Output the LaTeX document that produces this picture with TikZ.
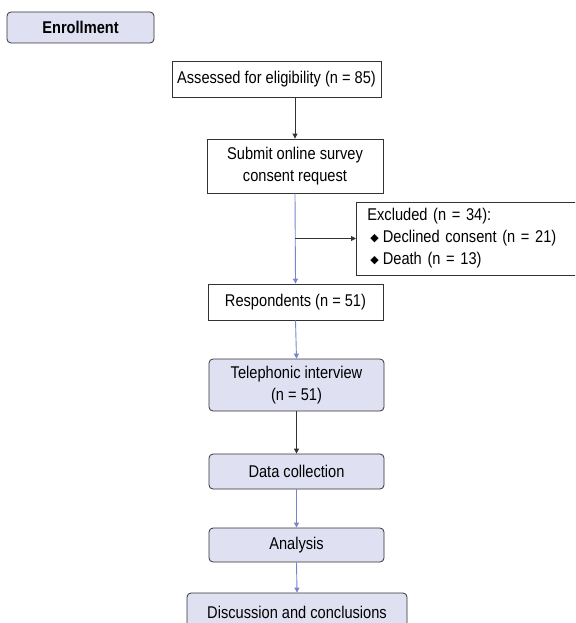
\documentclass[tikz,border=0pt]{standalone}
\usepackage{fontspec}
\setmainfont{Liberation Sans}[FakeStretch=0.86]
\newfontfamily\symfont{DejaVu Sans}
\usetikzlibrary{arrows.meta}
\definecolor{boxfill}{HTML}{DFE0F1}
\definecolor{flowblue}{HTML}{7A84CC}
\definecolor{boxline}{HTML}{333333}
\newcommand{\bul}{\hspace{3pt}{\symfont\fontsize{11}{12}\selectfont\raisebox{1pt}{◆}}\hspace{4pt}}
\begin{document}
\begin{tikzpicture}[x=1pt,y=-1pt,font=\fontsize{17}{22}\selectfont,
  box/.style={draw=boxline,line width=0.8pt,align=center,inner sep=2pt},
  stage/.style={box,fill=boxfill,rounded corners=4pt},
  arr/.style={-{Triangle[length=5pt,width=5pt]},line width=0.9pt,boxline},
  arrblue/.style={arr,flowblue}]
\useasboundingbox (0,0) rectangle (575,623);
\clip (0,0) rectangle (575,623);
\node[stage,minimum width=147pt,minimum height=31pt,font=\fontsize{17}{22}\selectfont\bfseries] (enrol) at (80.5,27.5) {Enrollment};
\node[box,minimum width=209pt,minimum height=36pt] (assess) at (276.5,79) {Assessed for eligibility (n = 85)};
\node[box,minimum width=176pt,minimum height=54pt] (submit) at (295,166) {Submit online survey\\consent request};
\node[box,minimum height=73pt,align=left,anchor=west,inner xsep=11pt,text width=240pt] (excl) at (356,238.5) {Excluded (n = 34):\\\bul Declined consent (n = 21)\\\bul Death (n = 13)};
\node[box,minimum width=175pt,minimum height=36pt] (resp) at (295.5,302) {Respondents (n = 51)};
\node[stage,minimum width=175pt,minimum height=52pt] (phone) at (296.5,385) {Telephonic interview\\(n = 51)};
\node[stage,minimum width=175pt,minimum height=35pt] (data) at (296.5,471.5) {Data collection};
\node[stage,minimum width=175pt,minimum height=34pt] (anal) at (296.5,545) {Analysis};
\node[stage,minimum width=220pt,minimum height=38pt] (disc) at (297,612) {Discussion and conclusions};
\coordinate (split) at (submit.south |- excl.west);
\draw[arr] (assess.south -| submit.north) -- (submit.north);
\draw[arrblue] (submit.south) -- (resp.north);
\draw[arr] (split) -- (excl.west);
\draw[arrblue] (resp.south) -- (phone.north);
\draw[arr] (phone.south) -- (data.north);
\draw[arrblue] (data.south) -- (anal.north);
\draw[arrblue] (anal.south) -- (disc.north);
\end{tikzpicture}
\end{document}
